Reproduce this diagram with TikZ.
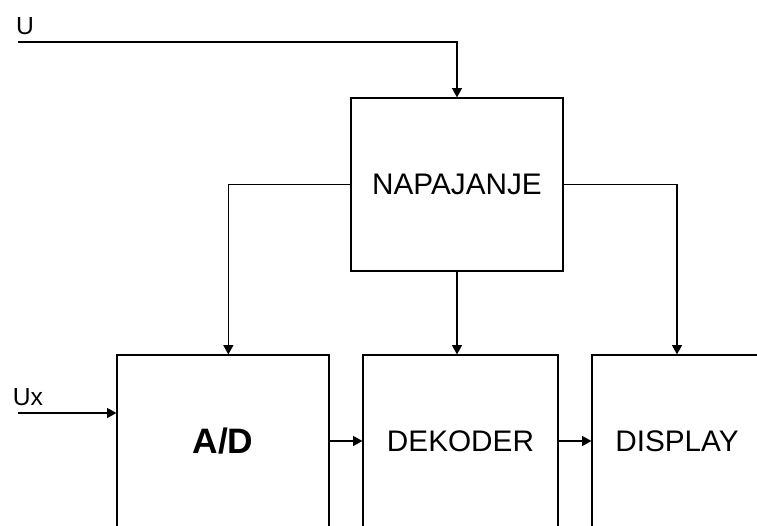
\documentclass[tikz,border=0pt]{standalone}
\usepackage{fontspec}
\setmainfont{Liberation Sans}
\usetikzlibrary{arrows.meta,positioning}
\tikzset{
  box/.style  = {rectangle, draw, line width=0.9pt, align=center, inner sep=0pt,
                 font=\fontsize{22.3}{26}\selectfont},
  flow/.style = {-{Triangle[length=7pt,width=7.5pt]}, line width=0.9pt},
  lbl/.style  = {inner sep=0pt, font=\fontsize{18.5}{22}\selectfont},
}
\begin{document}
\begin{tikzpicture}[x=0.75pt, y=-0.75pt]
\clip (0,0) rectangle (757,525);
\fill[white] (0,0) rectangle (757,525);
\node[box, minimum width=159pt, minimum height=129.75pt] (napaj) at (457,184.5) {NAPAJANJE};
\node[box, minimum width=159pt, minimum height=129pt,
      font=\fontsize{26.5}{30}\selectfont\bfseries] (ad) at (223,441) {A/D};
\node[box, minimum width=146.25pt, minimum height=129pt] (dek) at (460.5,441) {DEKODER};
\node[box, minimum width=127.5pt, minimum height=129pt] (disp) at (677,441) {DISPLAY};
% inputs
\node[lbl] (lu) at (25,26) {U};
\node[lbl] (lux) at (28,397) {Ux};
\coordinate (u0) at (18,42);
\coordinate (ux0) at (18,413);

\draw[flow] (u0) -| (napaj.north);
\draw[flow] (ux0) -- (ux0 -| ad.west);
\draw[flow] (napaj.west) -| ([xshift=4pt]ad.north);
\draw[flow] (napaj.south) -- (napaj.south |- dek.north);
\draw[flow] (napaj.east) -| (disp.north);
\draw[flow] (ad.east) -- (dek.west);
\draw[flow] (dek.east) -- (disp.west);
\end{tikzpicture}
\end{document}
